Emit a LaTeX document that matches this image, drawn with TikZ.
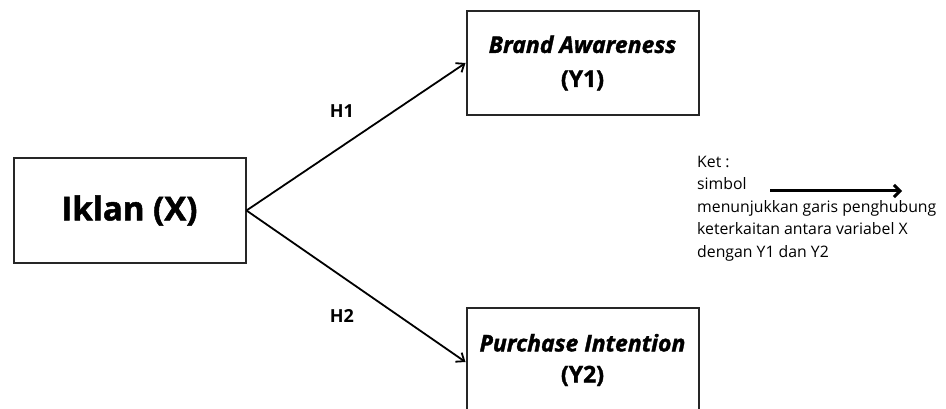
\documentclass[tikz,border=0pt]{standalone}
\usepackage{fontspec}
\setmainfont{Open Sans}
\setsansfont{Open Sans}
\newfontfamily\heavy[BoldFeatures={FakeBold=1.5},BoldItalicFeatures={FakeBold=1.5}]{Open Sans}
\usetikzlibrary{arrows.meta}
\begin{document}
\begin{tikzpicture}[x=1pt,y=-1pt,
  varbox/.style={draw=black!85,line width=2pt,minimum width=232pt,minimum height=104pt,inner sep=0pt,align=center},
  conn/.style={line width=1.8pt,-{Straight Barb[length=7pt,width=11pt,line width=1.8pt]}},
  hlabel/.style={font=\fontsize{18}{20}\selectfont\bfseries},
  legend/.style={font=\fontsize{15.8}{22.5}\selectfont,align=left,anchor=north west,inner sep=0pt}]
\useasboundingbox (0,0) rectangle (946,409);
\begin{scope}
\clip (0,0) rectangle (946,409);
\node[varbox,font=\fontsize{33}{36}\heavy\bfseries] (x) at (129.5,210.5) {Iklan (X)};
\node[varbox,font=\fontsize{23}{34}\heavy\bfseries] (y1) at (582.5,63) {\textit{Brand Awareness}\\(Y1)};
\node[varbox,font=\fontsize{23}{31}\heavy\bfseries] (y2) at (582.5,360) {\textit{Purchase Intention}\\(Y2)};
\end{scope}
\draw[conn] (x.east) -- (y1.west);
\draw[conn] (x.east) -- (y2.west |- 0,362);
\node[hlabel] (h1) at (342,111) {H1};
\node[hlabel] (h2) at (342,316) {H2};
\node[legend] (ket) at (697,156) {Ket :\\simbol\\menunjukkan garis penghubung\\keterkaitan antara variabel X\\dengan Y1 dan Y2};
\coordinate (la) at (770,191);
\coordinate (lb) at (902,191);
\draw[line width=3pt,-{Straight Barb[length=6pt,width=12pt,line width=3pt]}] (la) -- (lb);
\end{tikzpicture}
\end{document}
